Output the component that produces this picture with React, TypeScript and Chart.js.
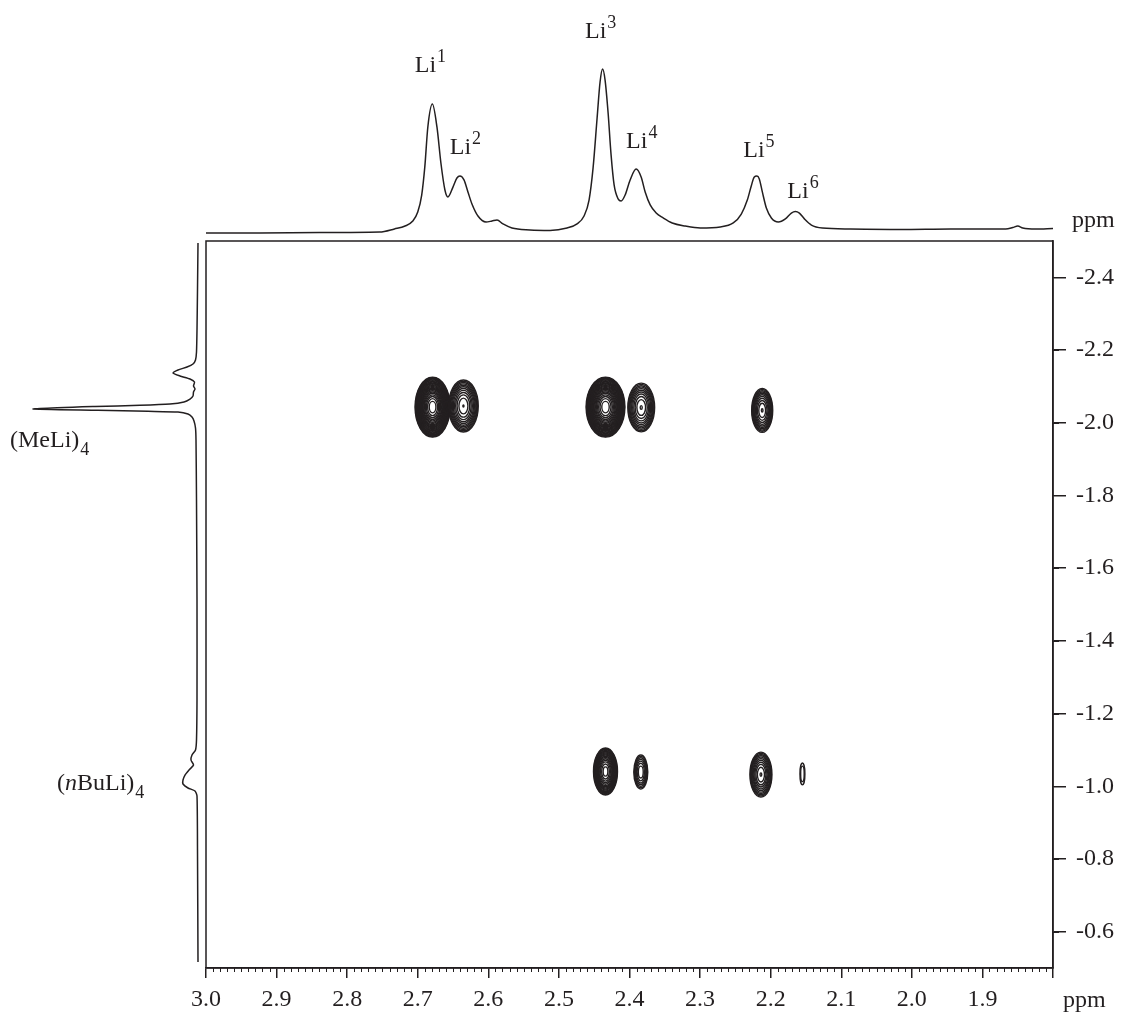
import { useEffect, useRef } from "react";
import { Chart, registerables } from "chart.js";

Chart.register(...registerables);

const W = 1123;
const H = 1016;
const FONT_FAMILY = '"Liberation Serif", "Times New Roman", Times, serif';
const INK = "#231f20";

// ---------- axes (ppm) ----------
const xRange = [1.8, 3.0];
const yRange = [-2.5, -0.5];
const xTickValues = [3.0, 2.9, 2.8, 2.7, 2.6, 2.5, 2.4, 2.3, 2.2, 2.1, 2.0, 1.9, 1.8];
const xTickLabels = ["3.0", "2.9", "2.8", "2.7", "2.6", "2.5", "2.4", "2.3", "2.2", "2.1", "2.0", "1.9", ""];
const yTickValues = [-2.4, -2.2, -2.0, -1.8, -1.6, -1.4, -1.2, -1.0, -0.8, -0.6];
const yTickLabels = ["-2.4", "-2.2", "-2.0", "-1.8", "-1.6", "-1.4", "-1.2", "-1.0", "-0.8", "-0.6"];
const xMinorStep = 0.01;
const yMinorStep = 0.1;

// ---------- top 1D projection (F2) ----------
const topPpm = [
  3.0, 2.924, 2.839, 2.754, 2.733, 2.718, 2.707, 2.7, 2.6944, 2.69, 2.6857, 2.6793,
  2.6728, 2.6672, 2.6615, 2.6573, 2.6501, 2.6445, 2.6402, 2.6345, 2.6289, 2.6232,
  2.6147, 2.6033, 2.5948, 2.5877, 2.5792, 2.5665, 2.541, 2.5126, 2.4885, 2.4743,
  2.4644, 2.4573, 2.4516, 2.4459, 2.4417, 2.4381, 2.4346, 2.4303, 2.4261, 2.4218,
  2.4161, 2.4119, 2.4062, 2.3991, 2.3906, 2.3835, 2.3778, 2.3707, 2.3622, 2.3523,
  2.3395, 2.3211, 2.2998, 2.2714, 2.253, 2.2416, 2.2331, 2.2275, 2.2232, 2.2195,
  2.2161, 2.2118, 2.2061, 2.199, 2.1891, 2.1792, 2.1707, 2.165, 2.1593, 2.1522,
  2.1423, 2.1267, 2.0869, 2.016, 1.945, 1.867, 1.857, 1.8499, 1.8428, 1.8244, 1.8,
];
const topIntensity = [
  -0.7, -0.7, -0.4, -0.1, 1.8, 3.6, 6.7, 12.2, 22.7, 40.0, 64.6, 78.7,
  64.6, 42.4, 25.8, 21.5, 27.6, 33.2, 34.4, 32.0, 24.6, 17.2,
  9.8, 6.1, 6.7, 7.3, 4.9, 2.4, 1.2, 0.9, 2.4, 4.9,
  9.8, 19.6, 39.4, 70.1, 92.3, 100.3, 93.5, 73.2, 47.4, 28.9,
  20.3, 19.0, 22.7, 32.0, 38.7, 33.8, 24.6, 16.6, 11.6, 8.6,
  5.5, 3.6, 2.4, 3.0, 5.5, 11.0, 19.6, 28.3, 33.8, 34.4,
  32.6, 24.6, 14.7, 8.6, 6.1, 8.0, 11.6, 12.6, 11.6, 8.0,
  4.2, 2.4, 1.8, 1.5, 1.8, 1.8, 2.7, 3.6, 2.4, 1.8, 2.1,
];

// ---------- left 1D projection (F1) ----------
const sidePpm = [
  -2.4945, -2.3652, -2.2552, -2.1946, -2.1727, -2.1616, -2.1534, -2.1451, -2.1369,
  -2.1287, -2.1204, -2.1121, -2.1011, -2.0929, -2.0846, -2.0736, -2.0653, -2.0571,
  -2.0516, -2.048, -2.0447, -2.0378, -2.0342, -2.0315, -2.0296, -2.0241, -2.0158,
  -2.0048, -1.9856, -1.9525, -1.7875, -1.5124, -1.2373, -1.1273, -1.0997, -1.086,
  -1.0722, -1.0585, -1.0447, -1.0309, -1.0172, -1.0062, -0.9952, -0.9869, -0.9732,
  -0.8246, -0.5165,
];
const sideIntensity = [
  0, 0.5, 1, 1.5, 2.5, 5, 11, 20, 25,
  18, 8, 3.5, 4.5, 3, 4.5, 5, 8, 14,
  28, 58, 103, 165, 100, 50, 20, 10, 6,
  4, 2.5, 2, 1.5, 1, 1, 1.5, 2.5, 6,
  7, 4.5, 9, 13, 15, 15, 10, 3, 1,
  0.5, 0,
];

// ---------- 2D cross peaks ----------
const crossF2 = [2.679, 2.6353, 2.434, 2.3834, 2.212, 2.434, 2.384, 2.2138, 2.155];
const crossF1 = [-2.043, -2.046, -2.043, -2.042, -2.034, -1.0406, -1.039, -1.032, -1.034];
const crossHalfWidthF2 = [0.0248, 0.021, 0.0275, 0.019, 0.0149, 0.017, 0.0099, 0.0156, 0.0035];
const crossHalfWidthF1 = [0.0825, 0.0715, 0.0825, 0.067, 0.0605, 0.0647, 0.0468, 0.062, 0.03];
const crossAmplitude = [400, 18, 400, 14, 14, 60, 6, 14, 1.7];
const contourFactor = 1.3;

// ---------- labels ----------
const topLabelScript = ["1", "2", "3", "4", "5", "6"];
const topLabelPpm = [2.6821, 2.6325, 2.4409, 2.3827, 2.2167, 2.1542];
const topLabelLevel = [98.4, 48.0, 119.4, 51.7, 46.1, 20.9];

const sideLabelParts = [
  [{ t: "(MeLi)" }],
  [{ t: "(" }, { t: "n", italic: true }, { t: "BuLi)" }],
];
const sideLabelScript = ["4", "4"];
const sideLabelPpm = [-1.9333, -0.9897];
const sideLabelLevel = [188, 141];

type Part = { t: string; italic?: boolean };

function drawRich(
  ctx: CanvasRenderingContext2D,
  parts: Part[],
  script: string,
  mode: "sup" | "sub",
  x: number,
  baseline: number,
  align: "left" | "center"
) {
  const mainFont = (it?: boolean) => `${it ? "italic " : ""}24px ${FONT_FAMILY}`;
  const smallFont = `18px ${FONT_FAMILY}`;
  let w = 0;
  parts.forEach((p) => {
    ctx.font = mainFont(p.italic);
    w += ctx.measureText(p.t).width;
  });
  ctx.font = smallFont;
  const sw = ctx.measureText(script).width;
  let cx = align === "center" ? x - (w + sw + 1) / 2 : x;
  ctx.textAlign = "left";
  ctx.textBaseline = "alphabetic";
  parts.forEach((p) => {
    ctx.font = mainFont(p.italic);
    ctx.fillText(p.t, cx, baseline);
    cx += ctx.measureText(p.t).width;
  });
  ctx.font = smallFont;
  ctx.fillText(script, cx + 1, baseline + (mode === "sup" ? -10 : 8));
}

const topDecor = {
  id: "topDecor",
  afterDraw(chart: any) {
    const { ctx, chartArea: a, scales } = chart;
    const x = scales.x;
    const y = scales.y;
    ctx.save();
    ctx.fillStyle = INK;
    topLabelScript.forEach((s, i) => {
      drawRich(ctx, [{ t: "Li" }], s, "sup", x.getPixelForValue(topLabelPpm[i]), y.getPixelForValue(topLabelLevel[i]), "center");
    });
    ctx.font = `24px ${FONT_FAMILY}`;
    ctx.textAlign = "left";
    ctx.textBaseline = "alphabetic";
    ctx.fillText("ppm", a.right + 19, y.getPixelForValue(0) - 5);
    ctx.restore();
  },
};

const sideDecor = {
  id: "sideDecor",
  afterDraw(chart: any) {
    const { ctx, scales } = chart;
    const x = scales.x;
    const y = scales.y;
    ctx.save();
    ctx.fillStyle = INK;
    sideLabelParts.forEach((parts, i) => {
      drawRich(ctx, parts, sideLabelScript[i], "sub", x.getPixelForValue(sideLabelLevel[i]), y.getPixelForValue(sideLabelPpm[i]), "left");
    });
    ctx.restore();
  },
};

const mainDecor = {
  id: "mainDecor",
  afterDatasetsDraw(chart: any) {
    const { ctx, chartArea: a, scales } = chart;
    const x = scales.x;
    const y = scales.y;
    ctx.save();
    ctx.beginPath();
    ctx.rect(a.left, a.top, a.right - a.left, a.bottom - a.top);
    ctx.clip();
    ctx.strokeStyle = INK;
    ctx.lineWidth = 1.4;
    const lnF = Math.log(contourFactor);
    crossF2.forEach((f2, i) => {
      const cx = x.getPixelForValue(f2);
      const cy = y.getPixelForValue(crossF1[i]);
      const rx = Math.abs(x.getPixelForValue(f2 + crossHalfWidthF2[i]) - cx);
      const ry = Math.abs(y.getPixelForValue(crossF1[i] + crossHalfWidthF1[i]) - cy);
      const lnA = Math.log(crossAmplitude[i]);
      const n = Math.floor(lnA / lnF) + 1;
      for (let k = 0; k < n; k++) {
        const s = Math.sqrt(Math.max(0, 1 - (k * lnF) / lnA));
        if (s * rx < 0.4) continue;
        ctx.beginPath();
        ctx.ellipse(cx, cy, Math.max(0.5, s * rx), Math.max(0.5, s * ry), 0, 0, Math.PI * 2);
        ctx.stroke();
      }
    });
    ctx.restore();
  },
  afterDraw(chart: any) {
    const { ctx, chartArea: a, scales } = chart;
    const x = scales.x;
    const y = scales.y;
    ctx.save();
    ctx.strokeStyle = INK;
    ctx.lineWidth = 1.5;
    ctx.strokeRect(a.left, a.top, a.right - a.left, a.bottom - a.top);
    ctx.lineWidth = 1;
    ctx.beginPath();
    const nx = Math.round((xRange[1] - xRange[0]) / xMinorStep);
    for (let i = 1; i < nx; i++) {
      if (i % 10 === 0) continue;
      const p = Math.round(x.getPixelForValue(xRange[0] + i * xMinorStep)) + 0.5;
      ctx.moveTo(p, a.bottom);
      ctx.lineTo(p, a.bottom + 4);
    }
    const ny = Math.round((yRange[1] - yRange[0]) / yMinorStep);
    for (let i = 1; i < ny; i++) {
      if (i % 2 === 0) continue;
      const p = Math.round(y.getPixelForValue(yRange[0] + i * yMinorStep)) + 0.5;
      ctx.moveTo(a.right, p);
      ctx.lineTo(a.right + 6, p);
    }
    ctx.stroke();
    ctx.fillStyle = INK;
    ctx.font = `24px ${FONT_FAMILY}`;
    ctx.textAlign = "left";
    ctx.textBaseline = "alphabetic";
    ctx.fillText("ppm", a.right + 10, a.bottom + 39);
    ctx.restore();
  },
};

const hidden = { display: false };

function makeTop(canvas: HTMLCanvasElement) {
  return new Chart(canvas, {
    type: "line",
    data: {
      datasets: [
        {
          data: topPpm.map((p, i) => ({ x: p, y: topIntensity[i] })),
          borderColor: INK,
          borderWidth: 1.5,
          pointRadius: 0,
          fill: false,
          cubicInterpolationMode: "monotone",
        },
      ],
    },
    options: {
      animation: false,
      responsive: false,
      events: [],
      layout: { padding: { left: 206, right: W - 1053, top: 50, bottom: H - 240 } },
      plugins: { legend: hidden, tooltip: { enabled: false } },
      scales: {
        x: { type: "linear", min: xRange[0], max: xRange[1], reverse: true, display: false },
        y: { type: "linear", min: -5, max: 112, display: false },
      },
    },
    plugins: [topDecor],
  } as any);
}

function makeSide(canvas: HTMLCanvasElement) {
  return new Chart(canvas, {
    type: "scatter",
    data: {
      datasets: [
        {
          data: sidePpm.map((p, i) => ({ x: sideIntensity[i], y: p })),
          borderColor: INK,
          borderWidth: 1.5,
          pointRadius: 0,
          showLine: true,
          tension: 0.2,
          fill: false,
        },
      ],
    },
    options: {
      animation: false,
      responsive: false,
      events: [],
      layout: { padding: { left: 0, right: W - 206, top: 241, bottom: H - 968 } },
      plugins: { legend: hidden, tooltip: { enabled: false } },
      scales: {
        x: { type: "linear", min: -8, max: 198, reverse: true, display: false },
        y: { type: "linear", min: yRange[0], max: yRange[1], reverse: true, display: false },
      },
    },
    plugins: [sideDecor],
  } as any);
}

function makeMain(canvas: HTMLCanvasElement) {
  const tickFont = { family: FONT_FAMILY, size: 24 };
  return new Chart(canvas, {
    type: "scatter",
    data: {
      datasets: [
        {
          data: crossF2.map((p, i) => ({ x: p, y: crossF1[i] })),
          pointRadius: 0,
          showLine: false,
        },
      ],
    },
    options: {
      animation: false,
      responsive: false,
      events: [],
      layout: { padding: { left: 206, top: 241, right: 0, bottom: 0 } },
      plugins: { legend: hidden, tooltip: { enabled: false } },
      scales: {
        x: {
          type: "linear",
          position: "bottom",
          min: xRange[0],
          max: xRange[1],
          reverse: true,
          afterBuildTicks: (s: any) => {
            s.ticks = xTickValues.map((value) => ({ value }));
          },
          afterFit: (s: any) => {
            s.height = H - 968;
          },
          grid: { drawOnChartArea: false, drawTicks: true, tickLength: 10, color: INK, lineWidth: 1.5 },
          border: { display: true, color: INK, width: 1.5 },
          ticks: {
            autoSkip: false,
            maxRotation: 0,
            minRotation: 0,
            padding: 7,
            color: INK,
            font: tickFont,
            callback: (_v: any, i: number) => xTickLabels[i],
          },
        },
        y: {
          type: "linear",
          position: "right",
          min: yRange[0],
          max: yRange[1],
          reverse: true,
          afterBuildTicks: (s: any) => {
            s.ticks = yTickValues.map((value) => ({ value }));
          },
          afterFit: (s: any) => {
            s.width = W - 1053;
          },
          grid: { drawOnChartArea: false, drawTicks: true, tickLength: 13, color: INK, lineWidth: 1.5 },
          border: { display: true, color: INK, width: 1.5 },
          ticks: {
            autoSkip: false,
            padding: 10,
            color: INK,
            font: tickFont,
            callback: (_v: any, i: number) => yTickLabels[i],
          },
        },
      },
    },
    plugins: [mainDecor],
  } as any);
}

const abs: React.CSSProperties = { position: "absolute", left: 0, top: 0, display: "block" };

export default function App() {
  const topRef = useRef<HTMLCanvasElement>(null);
  const sideRef = useRef<HTMLCanvasElement>(null);
  const mainRef = useRef<HTMLCanvasElement>(null);

  useEffect(() => {
    const charts = [
      makeTop(topRef.current as HTMLCanvasElement),
      makeSide(sideRef.current as HTMLCanvasElement),
      makeMain(mainRef.current as HTMLCanvasElement),
    ];
    return () => charts.forEach((c) => c.destroy());
  }, []);

  return (
    <div style={{ position: "absolute", left: 0, top: 0, width: W, height: H, background: "#fff", overflow: "hidden" }}>
      <canvas ref={topRef} width={W} height={H} style={abs} />
      <canvas ref={sideRef} width={W} height={H} style={abs} />
      <canvas ref={mainRef} width={W} height={H} style={abs} />
    </div>
  );
}
